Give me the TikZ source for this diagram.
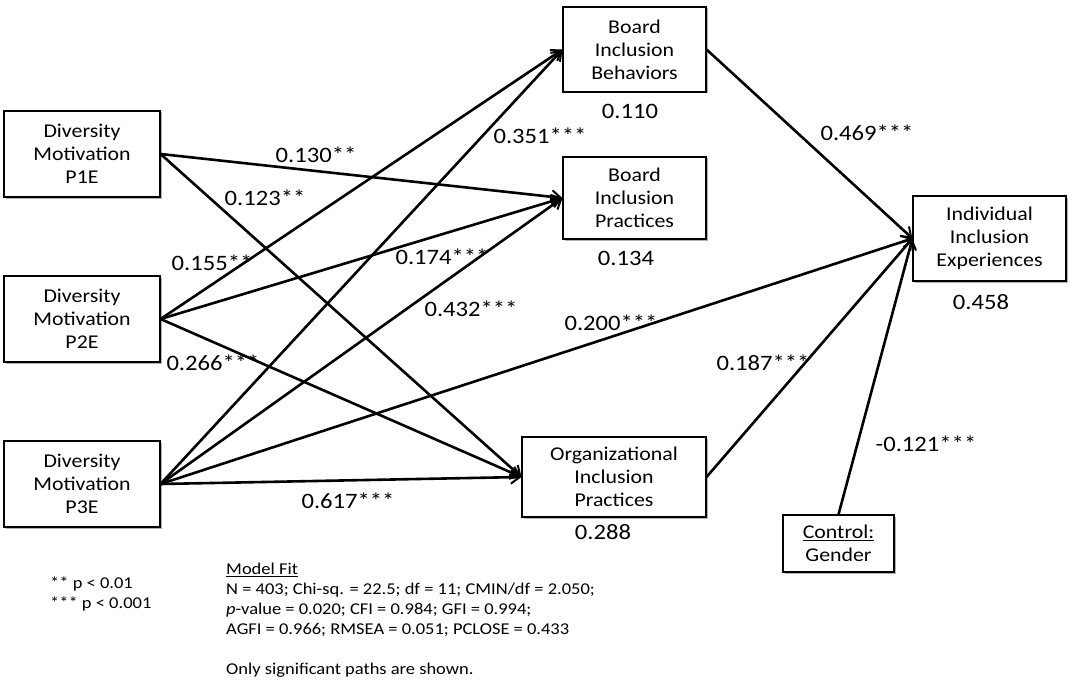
\documentclass[tikz,border=0pt]{standalone}
\usepackage{fontspec}
\setmainfont{Carlito}[FakeStretch=1.12]
\usepackage{tikz}
\usetikzlibrary{positioning,arrows.meta,shadows}

\tikzset{
  construct/.style={draw, line width=1.1pt, fill=white, align=center, inner sep=0pt,
    font=\fontsize{19.5}{23}\selectfont,
    drop shadow={shadow xshift=1.5pt, shadow yshift=-1.5pt, fill=black!60, opacity=0.5}},
  effect/.style={line width=2.6pt, -{Straight Barb[length=9pt,width=13pt,line width=2pt]}},
  coef/.style={font=\fontsize{22}{26}\selectfont, inner sep=0pt},
  note/.style={align=left, inner sep=0pt, font=\fontsize{16.5}{20}\selectfont},
}

\begin{document}
\begin{tikzpicture}[x=1pt,y=-1pt]
  \useasboundingbox (0,0) rectangle (1070,687);
  % predictors
  \node[construct, minimum width=156pt, minimum height=86pt] (p1e) at (82,154) {Diversity\\Motivation\\P1E};
  \node[construct, minimum width=156pt, minimum height=86pt] (p2e) at (82,319) {Diversity\\Motivation\\P2E};
  \node[construct, minimum width=156pt, minimum height=86pt] (p3e) at (82,484) {Diversity\\Motivation\\P3E};
  % mediators
  \node[construct, minimum width=143pt, minimum height=85pt] (bib) at (634.5,49.5) {Board\\Inclusion\\Behaviors};
  \node[construct, minimum width=143pt, minimum height=82pt] (bip) at (634.5,198) {Board\\Inclusion\\Practices};
  \node[construct, minimum width=184pt, minimum height=80pt] (oip) at (614,477) {Organizational\\Inclusion\\Practices};
  % outcome and control
  \node[construct, minimum width=153pt, minimum height=85pt] (iie) at (989.5,238.5) {Individual\\Inclusion\\Experiences};
  \node[construct, minimum width=111pt, minimum height=57pt] (gender) at (838.5,543.5) {\underline{Control:}\\Gender};

  \draw[effect] (p1e.east) -- (bip.west);
  \draw[effect] (p1e.east) -- (oip.west);
  \draw[effect] (p2e.east) -- (bib.west);
  \draw[effect] (p2e.east) -- (bip.west);
  \draw[effect] (p2e.east) -- (oip.west);
  \draw[effect] (p3e.east) -- (bib.west);
  \draw[effect] (p3e.east) -- (bip.west);
  \draw[effect] (p3e.east) -- (iie.west);
  \draw[effect] (p3e.east) -- (oip.west);
  \draw[effect] (bib.east) -- (iie.west);
  \draw[effect] (oip.east) -- (iie.west);
  \draw[effect] (gender.north) -- (iie.west);

  % path coefficients
  \node[coef] (c130) at (316,155) {0.130**};
  \node[coef] (c123) at (265,198) {0.123**};
  \node[coef] (c155) at (212,263) {0.155**};
  \node[coef] (c266) at (213,363) {0.266***};
  \node[coef] (c351) at (540,136) {0.351***};
  \node[coef] (c174) at (442,257) {0.174***};
  \node[coef] (c432) at (471,309) {0.432***};
  \node[coef] (c200) at (611,323) {0.200***};
  \node[coef] (c617) at (348,501) {0.617***};
  \node[coef] (c469) at (867,133) {0.469***};
  \node[coef] (c187) at (763,363) {0.187***};
  \node[coef] (c121) at (926,444) {-0.121***};
  % explained variance
  \node[coef] (r2bib) at (630,111) {0.110};
  \node[coef] (r2bip) at (626,258) {0.134};
  \node[coef] (r2oip) at (603,532) {0.288};
  \node[coef] (r2iie) at (981,302) {0.458};

  % notes
  \node[note, anchor=north west] (sig) at (50,577) {** p < 0.01\\*** p < 0.001};
  \node[note, anchor=north west] (fit) at (226,563) {\underline{Model Fit}\\
    N = 403; Chi-sq. = 22.5; df = 11; CMIN/df = 2.050;\\
    \textit{p}-value = 0.020; CFI = 0.984; GFI = 0.994;\\
    AGFI = 0.966; RMSEA = 0.051; PCLOSE = 0.433\\[20pt]
    Only significant paths are shown.};
\end{tikzpicture}
\end{document}
